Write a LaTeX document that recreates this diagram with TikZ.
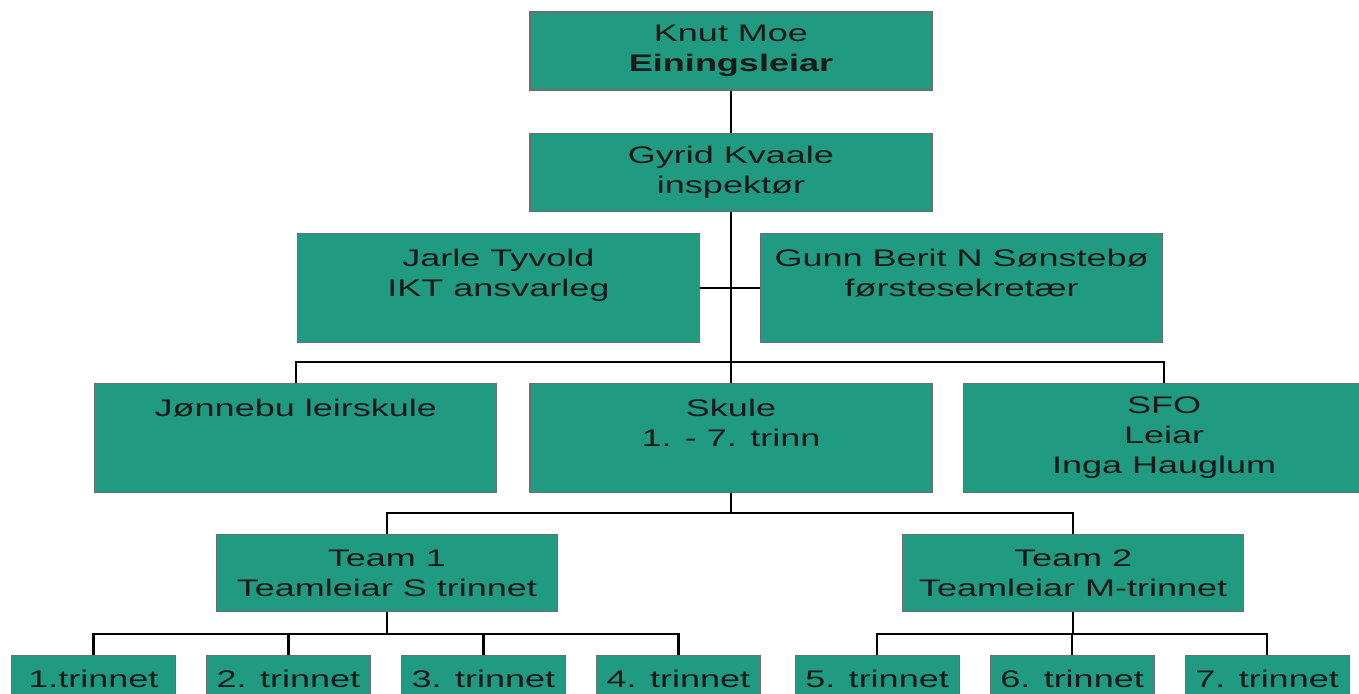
\documentclass[tikz,border=0pt]{standalone}
\usepackage{fontspec}
\setmainfont{Liberation Sans}[FakeStretch=1.5]
\usepackage{tikz}
\usetikzlibrary{positioning}
\definecolor{boxfill}{RGB}{32,154,128}
\definecolor{boxline}{RGB}{110,110,110}
\tikzset{unit/.style = {rectangle, draw=boxline, fill=boxfill, line width=1.2pt,
    inner sep=0pt, align=center, text=black!90,
    minimum width=402pt, minimum height=109pt}}
\tikzset{head/.style = {unit, minimum height=78pt}}
\tikzset{team/.style = {unit, minimum width=341pt, minimum height=77pt}}
\tikzset{grade/.style = {unit, minimum width=164pt, minimum height=46pt}}
\tikzset{tie/.style = {draw=black, line width=2.5pt}}

\begin{document}
\begin{tikzpicture}[x=1pt, y=1pt, font=\fontsize{24}{30}\selectfont]
      \clip (0,0) rectangle (1359,-693);
      \fill[white] (0,0) rectangle (1359,-693);

      \node[head] (chief) at (731,-51) {Knut Moe\\\textbf{Einingsleiar}};
      \node[head, below = 42pt of chief] (insp) {Gyrid Kvaale\\inspektør};

      \node[unit, below left = 21pt and 31pt of insp.south] (ikt)
      {Jarle Tyvold\\IKT ansvarleg\\\mbox{}};
      \node[unit, below right = 21pt and 29pt of insp.south] (sekr)
      {Gunn Berit N Sønstebø\\førstesekretær\\\mbox{}};

        \path (ikt) edge[tie] (sekr);



        \node[unit, below = 171pt of insp] (skule)
        {Skule\\1. - 7. trinn\\\mbox{}};
        \node[unit, left = 32pt of skule] (leir)
        {Jønnebu leirskule\\\mbox{}\\\mbox{}};
        \node[unit, right = 30pt of skule] (sfo)
        {SFO\\Leiar\\Inga Hauglum};

        \draw[tie] (chief) -- (insp);
        \draw[tie] (insp) -- (skule);
        \draw[tie] (skule.north) -- ++(0,21) -| (leir.north);
        \draw[tie] (skule.north) -- ++(0,21) -| (sfo.north);



        \node[team, below left = 41pt and 173pt of skule.south] (team1)
        {Team 1\\Teamleiar S trinnet};
        \node[team, below right = 41pt and 171pt of skule.south] (team2)
        {Team 2\\Teamleiar M-trinnet};

        \draw[tie] (skule.south) -- ++(0,-20) -| (team1.north);
        \draw[tie] (skule.south) -- ++(0,-20) -| (team2.north);



        \foreach \g/\dx in {1/-293.5, 2/-98.5, 3/96.5, 4/291.5}
        {
        \node[grade, below = 43pt of team1, xshift=\dx pt] (grade\g)
        {\ifnum\g=1 1.trinnet\else\g. trinnet\fi};
        \draw[tie] (team1.south) -- ++(0,-22) -| (grade\g.north);
        }

        \foreach \g/\dx in {5/-196, 6/-1, 7/194}
        {
        \node[grade, below = 43pt of team2, xshift=\dx pt] (grade\g) {\g. trinnet};
        \draw[tie] (team2.south) -- ++(0,-22) -| (grade\g.north);
        }
    \end{tikzpicture}
\end{document}
